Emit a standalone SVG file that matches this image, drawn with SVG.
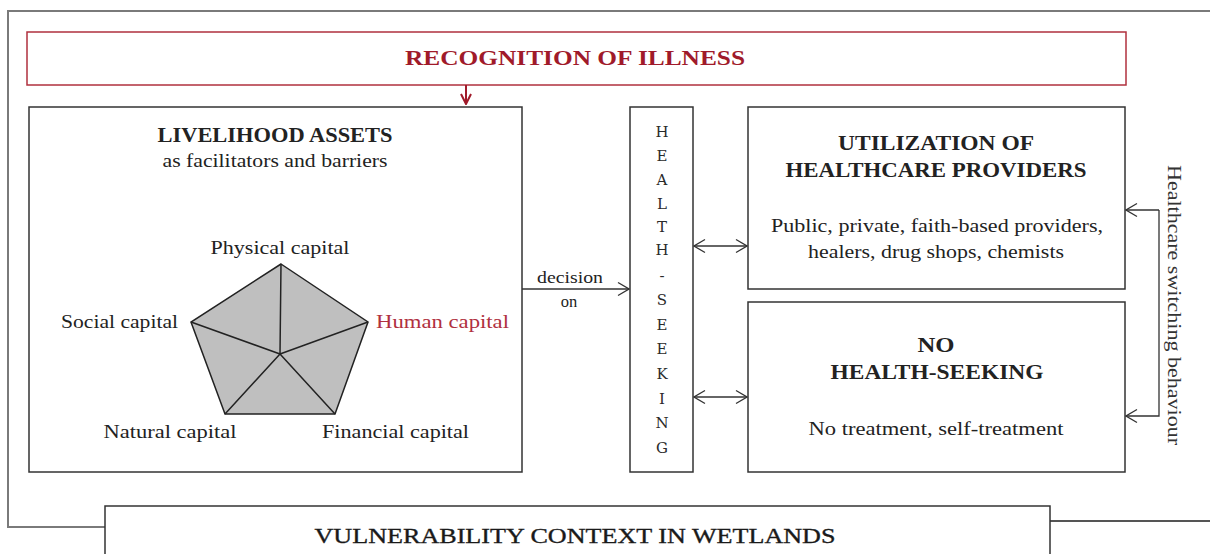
<svg xmlns="http://www.w3.org/2000/svg" width="1210" height="554" viewBox="0 0 1210 554">
<defs>
<style>
text{font-family:"Liberation Serif","DejaVu Serif",serif;fill:#222;}
.box{fill:#fff;stroke:#333;stroke-width:1.5;}
.title{font-weight:bold;font-size:20px;text-anchor:middle;}
.body{font-size:18.5px;text-anchor:middle;}
.cap{font-size:18px;}
.ln{fill:none;stroke:#333;stroke-width:1.3;}
.vl{font-family:"DejaVu Serif","Liberation Serif",serif;font-size:15px;text-anchor:middle;fill:#2a2a2a;}
</style>
<marker id="ah" viewBox="0 0 13 16" refX="12" refY="8" markerWidth="13" markerHeight="16" markerUnits="userSpaceOnUse" orient="auto-start-reverse">
<path d="M1,1.5 L12,8 L1,14.5" fill="none" stroke="#333" stroke-width="1.3"/>
</marker>
<marker id="ahr" viewBox="0 0 12 12" refX="11" refY="6" markerWidth="12" markerHeight="12" markerUnits="userSpaceOnUse" orient="auto">
<path d="M1,1 L11,6 L1,11" fill="none" stroke="#a01a2a" stroke-width="2"/>
</marker>
</defs>
<rect width="1210" height="554" fill="#fff"/>
<g id="frame">
<path d="M1212,11 H8 V527 H105" fill="none" stroke="#7a7a7a" stroke-width="2"/>
<path d="M1050,521 H1212" fill="none" stroke="#555" stroke-width="2"/>
</g>
<g id="recognition">
<rect x="27" y="32" width="1099" height="53" fill="#fff" stroke="#b0303e" stroke-width="1.5"/>
<text x="575" y="65" text-anchor="middle" font-size="21" font-weight="bold" textLength="340" lengthAdjust="spacingAndGlyphs" style="fill:#a01a2a">RECOGNITION OF ILLNESS</text>
</g>
<g id="livelihood">
<rect class="box" x="29" y="107" width="493" height="365"/>
<text class="title" x="275" y="142" textLength="235" lengthAdjust="spacingAndGlyphs">LIVELIHOOD ASSETS</text>
<text class="body" x="275" y="167" textLength="225" lengthAdjust="spacingAndGlyphs">as facilitators and barriers</text>
<polygon points="281,264 368,322 335,414 225,414 191,322" fill="#bfbfbf" stroke="#222" stroke-width="1.5"/>
<path d="M281,264 L280,354 M368,322 L280,354 M335,414 L280,354 M225,414 L280,354 M191,322 L280,354" stroke="#222" stroke-width="1.5"/>
<text class="cap" x="280" y="254" text-anchor="middle" textLength="139" lengthAdjust="spacingAndGlyphs">Physical capital</text>
<text class="cap" x="178" y="328" text-anchor="end" textLength="117" lengthAdjust="spacingAndGlyphs">Social capital</text>
<text class="cap" x="376" y="328" textLength="133" lengthAdjust="spacingAndGlyphs" style="fill:#b03040">Human capital</text>
<text class="cap" x="170" y="438" text-anchor="middle" textLength="133" lengthAdjust="spacingAndGlyphs">Natural capital</text>
<text class="cap" x="322" y="438" textLength="147" lengthAdjust="spacingAndGlyphs">Financial capital</text>
</g>
<g id="health-seeking">
<rect class="box" x="630" y="107" width="63" height="365"/>
<text class="vl" x="662" y="137">H</text>
<text class="vl" x="662" y="161">E</text>
<text class="vl" x="662" y="185">A</text>
<text class="vl" x="662" y="209">L</text>
<text class="vl" x="662" y="232">T</text>
<text class="vl" x="662" y="255">H</text>
<text class="vl" x="662" y="281">-</text>
<text class="vl" x="662" y="305">S</text>
<text class="vl" x="662" y="330">E</text>
<text class="vl" x="662" y="354">E</text>
<text class="vl" x="662" y="379">K</text>
<text class="vl" x="662" y="404">I</text>
<text class="vl" x="662" y="428">N</text>
<text class="vl" x="662" y="453">G</text>
</g>
<g id="utilization">
<rect class="box" x="748" y="107" width="377" height="182"/>
<text class="title" x="936" y="150" textLength="196" lengthAdjust="spacingAndGlyphs">UTILIZATION OF</text>
<text class="title" x="936" y="177" textLength="301" lengthAdjust="spacingAndGlyphs">HEALTHCARE PROVIDERS</text>
<text class="body" x="937" y="232" textLength="332" lengthAdjust="spacingAndGlyphs">Public, private, faith-based providers,</text>
<text class="body" x="936" y="258" textLength="256" lengthAdjust="spacingAndGlyphs">healers, drug shops, chemists</text>
</g>
<g id="no-health-seeking">
<rect class="box" x="748" y="302" width="377" height="170"/>
<text class="title" x="936" y="352" textLength="37" lengthAdjust="spacingAndGlyphs">NO</text>
<text class="title" x="937" y="379" textLength="213" lengthAdjust="spacingAndGlyphs">HEALTH-SEEKING</text>
<text class="body" x="936" y="435" textLength="255" lengthAdjust="spacingAndGlyphs">No treatment, self-treatment</text>
</g>
<g id="vulnerability">
<rect x="105" y="506" width="945" height="60" fill="#fff" stroke="#333" stroke-width="1.5"/>
<text x="575" y="543" text-anchor="middle" font-size="22" textLength="521" lengthAdjust="spacingAndGlyphs" stroke="#1a1a1a" stroke-width="0.35" style="fill:#1a1a1a">VULNERABILITY CONTEXT IN WETLANDS</text>
</g>
<g id="connectors">
<line x1="466" y1="85" x2="466" y2="104" stroke="#a01a2a" stroke-width="2" marker-end="url(#ahr)"/>
<line class="ln" x1="522" y1="289" x2="629" y2="289" marker-end="url(#ah)"/>
<text x="570" y="283" text-anchor="middle" font-size="16.5" textLength="66" lengthAdjust="spacingAndGlyphs">decision</text>
<text x="569" y="307" text-anchor="middle" font-size="16.5">on</text>
<line class="ln" x1="694" y1="246" x2="747" y2="246" marker-start="url(#ah)" marker-end="url(#ah)"/>
<line class="ln" x1="694" y1="397" x2="747" y2="397" marker-start="url(#ah)" marker-end="url(#ah)"/>
<path class="ln" d="M1159,210 H1126" marker-end="url(#ah)"/>
<path class="ln" d="M1159,210 V416 H1126" marker-end="url(#ah)"/>
<text transform="translate(1168,305) rotate(90)" x="0" y="0" text-anchor="middle" font-size="18" textLength="280" lengthAdjust="spacingAndGlyphs" style="fill:#333">Healthcare switching behaviour</text>
</g>
</svg>
